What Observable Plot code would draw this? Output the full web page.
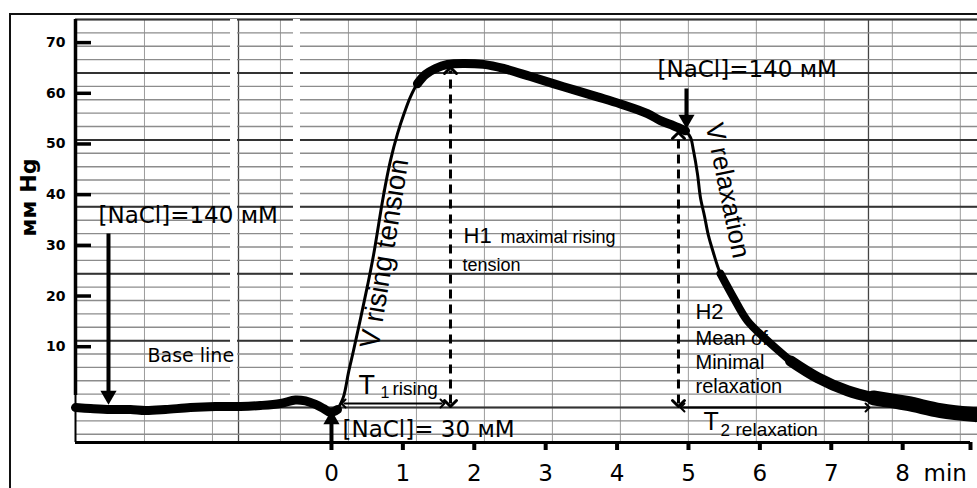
<!DOCTYPE html>
<html><head><meta charset="utf-8">
<script src="https://cdn.jsdelivr.net/npm/d3@7"></script>
<script src="https://cdn.jsdelivr.net/npm/@observablehq/plot@0.6"></script>
<style>
html,body{margin:0;padding:0;background:#fff;}
#wrap{position:relative;width:977px;height:488px;overflow:hidden;}
#border{position:absolute;left:9px;top:13px;width:990px;height:490px;border-left:2px solid #111;border-top:2px solid #111;pointer-events:none;}
</style></head><body>
<div id="wrap"><div id="chart"></div><div id="border"></div></div>
<script>
// ---- data (minutes, mm Hg) ----
const timeMin = [-3.585,-3.375,-3.095,-2.815,-2.605,-2.325,-1.975,-1.625,-1.275,-0.994,-0.714,-0.504,-0.364,-0.224,-0.112,-0.014,0.084,0.168,0.238,0.308,0.406,0.504,0.588,0.728,0.826,0.924,1.022,1.106,1.204,1.317,1.457,1.625,1.849,2.129,2.409,2.787,3.249,3.725,4.048,4.426,4.608,4.790,4.958,5.028,5.070,5.126,5.168,5.224,5.280,5.350,5.448,5.630,5.826,6.106,6.429,6.807,7.227,7.591,8.067,8.529,9.02];
const pressure = [-2.0,-2.2,-2.4,-2.4,-2.6,-2.4,-2.0,-1.8,-1.8,-1.6,-1.2,-0.5,-0.7,-1.4,-2.2,-3.0,-2.4,0.1,4.9,9.2,15.5,22.0,28.0,39.8,46.7,52.0,56.2,59.3,61.9,63.7,64.9,65.7,65.9,65.7,64.9,63.3,61.3,59.3,57.9,56.0,54.6,53.6,52.6,51.3,48.7,44.1,39.4,35.8,31.9,28.5,24.4,19.7,15.1,11.2,7.2,3.9,1.3,-0.1,-1.2,-2.6,-3.4];

const yTickValues = [10,20,30,40,50,60,70];
const xTickValues = [0,1,2,3,4,5,6,7,8];
const xDomain = [-3.585, 9.048];
const yDomain = [-8.9, 74.56];
const axisEndX = 8.95;

// paper grid of the recorder chart
const hGrid = d3.range(-7.28, 75, 2.64);
const hGridDark = [-2.0, 11.2, 24.4, 37.6, 50.8, 64.0, 74.56];
const vGrid = d3.range(-2.619, 9.05, 0.9522);
const vGridDark = [-1.302, 7.521];
const scanGaps = [{x1:-1.414,x2:-1.316,y1:0.4,y2:74.56},{x1:-0.532,x2:-0.434,y1:1.2,y2:74.56}];

// annotations
const solidArrows = [
  {x:-3.123, y1:32.33, y2:0.37, dir:"down"},
  {x:4.972, y1:60.95, y2:54.83, dir:"down"},
  {x:0.0, y1:-8.9, y2:-4.37, dir:"up"}
];
const dashedArrows = [
  {x:1.667, y1:-1.21, y2:64.5},
  {x:4.860, y1:-1.21, y2:51.67}
];
const spanArrows = [
  {y:-1.21, x1:0.169, x2:1.555},
  {y:-2.0, x1:4.916, x2:7.508}
];

const rows = timeMin.map((t, i) => ({t, p: pressure[i]}));
const seg = (a, b) => rows.filter(d => d.t >= a && d.t <= b);

const lineOpts = {x: "t", y: "p", stroke: "#000", curve: "catmull-rom", strokeLinecap: "round", strokeLinejoin: "round"};
const arial = "Liberation Sans, Arial, sans-serif";
const dejavu = "DejaVu Sans, sans-serif";

const txt = (s, x, y, o) => Plot.text([s], {x: () => x, y: () => y, text: d => d, fill: "#000", ...o});

const chart = Plot.plot({
  width: 977, height: 488,
  marginLeft: 75, marginRight: 0, marginTop: 19, marginBottom: 46,
  x: {domain: xDomain, label: null},
  y: {domain: yDomain, label: null},
  style: {background: "white", overflow: "visible", fontFamily: arial},
  marks: [
    Plot.ruleX(vGrid, {stroke: "#9c9c9c", strokeWidth: 1}),
    Plot.ruleX(vGridDark, {stroke: "#444", strokeWidth: 1.3}),
    Plot.ruleY(hGrid, {stroke: "#8c8c8c", strokeWidth: 1.4}),
    Plot.ruleY(hGridDark, {stroke: "#333", strokeWidth: 2}),
    Plot.rect(scanGaps, {x1: "x1", x2: "x2", y1: "y1", y2: "y2", fill: "white"}),
    // axes lines
    Plot.ruleX([xDomain[0]], {y1: 0.37, y2: yDomain[1], strokeWidth: 3.5, stroke: "#000"}),
    Plot.ruleX([xDomain[0]], {y1: yDomain[0], y2: 0.37, strokeWidth: 2, stroke: "#000"}),
    Plot.ruleY([yDomain[0]], {x1: xDomain[0], x2: axisEndX, strokeWidth: 3, stroke: "#000"}),
    Plot.axisX({ticks: xTickValues, tickSize: 8, strokeWidth: 4, tickPadding: 14, fontSize: 23, fontFamily: dejavu, fill: "#000"}),
    Plot.axisX({ticks: [axisEndX], tickSize: 8, strokeWidth: 4, tickFormat: () => ""}),
    Plot.axisY({ticks: yTickValues, tickSize: -16, strokeWidth: 3.5, tickFormat: () => ""}),
    Plot.axisY({ticks: yTickValues, tickSize: 0, tickPadding: 10, fontSize: 14, fontWeight: "bold", fontFamily: dejavu, fill: "#000"}),
    txt("min", 8.292, -16.4, {textAnchor: "start", lineAnchor: "bottom", fontSize: 23, fontFamily: dejavu}),
    txt("мм Hg", xDomain[0], 39.44, {dx: -47, rotate: -90, fontSize: 22, fontWeight: "bold", fontFamily: dejavu}),
    // text annotations
    txt("[NaCl]=140 мМ", -3.263, 34.5, {textAnchor: "start", lineAnchor: "bottom", fontSize: 23, fontFamily: dejavu}),
    txt("Base line", -2.577, 7.08, {textAnchor: "start", lineAnchor: "bottom", fontSize: 19, fontFamily: dejavu}),
    txt("[NaCl]= 30 мМ", 0.155, -7.72, {textAnchor: "start", lineAnchor: "bottom", fontSize: 23, fontFamily: dejavu}),
    txt("[NaCl]=140 мМ", 4.566, 63.3, {textAnchor: "start", lineAnchor: "bottom", fontSize: 23, fontFamily: dejavu}),
    txt("V rising tension", 0.743, 28.39, {rotate: -81, fontSize: 28}),
    txt("V relaxation", 5.547, 40.82, {rotate: 78.4, fontSize: 26}),
    txt("H1", 1.849, 30.56, {textAnchor: "start", lineAnchor: "bottom", fontSize: 22}),
    txt("maximal rising", 2.367, 30.56, {textAnchor: "start", lineAnchor: "bottom", fontSize: 18}),
    txt("tension", 1.835, 24.84, {textAnchor: "start", lineAnchor: "bottom", fontSize: 18}),
    txt("T", 0.379, 0.76, {textAnchor: "start", lineAnchor: "bottom", fontSize: 27}),
    txt("1", 0.687, -0.03, {textAnchor: "start", lineAnchor: "bottom", fontSize: 16}),
    txt("rising", 0.855, 0.56, {textAnchor: "start", lineAnchor: "bottom", fontSize: 19}),
    txt("H2", 5.098, 15.56, {textAnchor: "start", lineAnchor: "bottom", fontSize: 22}),
    txt("Mean of\nMinimal\nrelaxation", 5.098, 0.96, {textAnchor: "start", lineAnchor: "bottom", lineHeight: 1.2, fontSize: 20}),
    txt("T", 5.211, -6.34, {textAnchor: "start", lineAnchor: "bottom", fontSize: 25}),
    txt("2", 5.449, -7.53, {textAnchor: "start", lineAnchor: "bottom", fontSize: 17}),
    txt("relaxation", 5.659, -7.53, {textAnchor: "start", lineAnchor: "bottom", fontSize: 19}),
    // the tracing
    Plot.line(seg(-4, 0.084), {...lineOpts, strokeWidth: 9}),
    Plot.line(seg(0.084, 1.317), {...lineOpts, strokeWidth: 3}),
    Plot.line(seg(1.204, 4.958), {...lineOpts, strokeWidth: 9}),
    Plot.line(seg(4.958, 5.630), {...lineOpts, strokeWidth: 3}),
    Plot.line(seg(5.448, 6.429), {...lineOpts, strokeWidth: 8}),
    Plot.line(seg(6.429, 7.591), {...lineOpts, strokeWidth: 11}),
    Plot.line(seg(7.591, 9.1), {...lineOpts, strokeWidth: 15}),
    // arrows
    Plot.link(solidArrows, {x1: "x", x2: "x", y1: "y1", y2: "y2", stroke: "#000", strokeWidth: 4}),
    Plot.dot(solidArrows, {x: "x", y: "y2", symbol: "triangle", r: 6, fill: "#000", stroke: null,
      rotate: d => d.dir === "down" ? 180 : 0}),
    Plot.link(dashedArrows, {x1: "x", x2: "x", y1: "y1", y2: "y2", stroke: "#000", strokeWidth: 3, strokeDasharray: "9,6",
      markerStart: "arrow-reverse", markerEnd: "arrow"}),
    Plot.link(spanArrows, {x1: "x1", x2: "x2", y1: "y", y2: "y", stroke: "#000", strokeWidth: 2,
      markerStart: "arrow-reverse", markerEnd: "arrow"})
  ]
});
document.getElementById("chart").appendChild(chart);
</script>
</body></html>
